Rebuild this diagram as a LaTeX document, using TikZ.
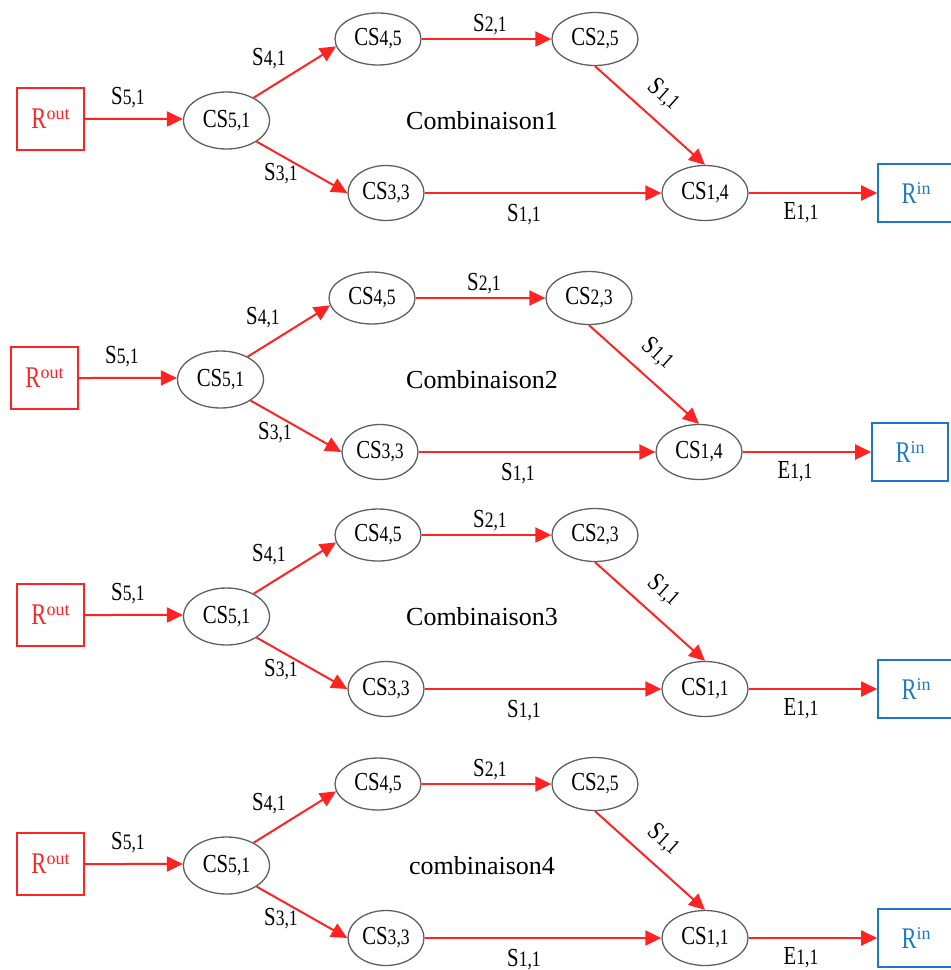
\documentclass[tikz,border=0pt]{standalone}
\usepackage{fontspec}
\setmainfont{Liberation Serif}
\newfontfamily\narrowserif[FakeStretch=0.8]{Liberation Serif}
\newfontfamily\resserif[FakeStretch=0.75]{Liberation Serif}
\usetikzlibrary{shapes.geometric,arrows.meta}

\definecolor{flowred}{RGB}{255,35,35}
\definecolor{resblue}{RGB}{30,120,200}
\definecolor{ringray}{RGB}{95,95,95}

% indexed symbol such as CS_{5,1}: small index on the same baseline
\newcommand\idx[2]{{\narrowserif\fontsize{26}{26}\selectfont #1\fontsize{22}{22}\selectfont #2}}
% resource label R^{out} / R^{in}
\newcommand\res[1]{{\resserif\fontsize{30}{30}\selectfont R\raisebox{9pt}{\rmfamily\fontsize{18}{18}\selectfont #1}}}

\tikzset{
  cs/.style={ellipse, draw=ringray, line width=1.3pt, minimum width=86pt,
             minimum height=55pt, inner sep=0pt},
  routbox/.style={rectangle, draw=flowred, line width=1.6pt, minimum width=67pt,
             minimum height=62pt, text=flowred, inner sep=0pt},
  rinbox/.style={rectangle, draw=resblue, line width=1.6pt, minimum width=76pt,
             minimum height=58pt, text=resblue, inner sep=0pt},
  flow/.style={draw=flowred, line width=2pt, -{Triangle[length=16pt,width=15pt]}},
  lab/.style={inner sep=0pt, anchor=base},
  diaglab/.style={inner sep=0pt, rotate=-42},
  combtitle/.style={inner sep=0pt, anchor=base, font=\fontsize{26}{26}\selectfont},
}

% one combination: #1,#2 shift, #3 name prefix, #4 upper right CS index,
% #5 lower right CS index, #6 title
\newcommand\combpanel[6]{%
\begin{scope}[shift={(#1,#2)}]
  \node[routbox] (#3rout) at (50.5,-1.5) {\res{out}};
  \node[cs, minimum height=57pt] (#3a) at (226.5,0) {\idx{CS}{5,1}};
  \node[cs, minimum height=52pt] (#3b) at (378,-81.5) {\idx{CS}{4,5}};
  \node[cs, minimum width=76pt] (#3c) at (386,72.5) {\idx{CS}{3,3}};
  \node[cs, minimum height=53pt] (#3d) at (595,-81.5) {\idx{CS}{#4}};
  \node[cs] (#3e) at (705,72.5) {\idx{CS}{#5}};
  \node[rinbox] (#3rin) at (916,72.5) {\res{in}};
  \draw[flow] (#3rout) -- (#3a.178);
  \draw[flow] (#3a.40) -- (#3b.190);
  \draw[flow] (#3a.-35) -- (#3c.west);
  \draw[flow] (#3b) -- (#3d);
  \draw[flow] (#3d.south) -- (#3e.north);
  \draw[flow] (#3c) -- (#3e);
  \draw[flow] (#3e) -- (#3rin);
  \node[lab] (#3l1) at (128,-16) {\idx{S}{5,1}};
  \node[lab] (#3l2) at (269,-55.5) {\idx{S}{4,1}};
  \node[lab] (#3l3) at (281,60) {\idx{S}{3,1}};
  \node[lab] (#3l4) at (490,-89.5) {\idx{S}{2,1}};
  \node[diaglab] (#3l5) at (664,-26) {\idx{S}{1,1}};
  \node[lab] (#3l6) at (524,100.5) {\idx{S}{1,1}};
  \node[lab] (#3l7) at (801,98.5) {\idx{E}{1,1}};
  \node[combtitle] (#3t) at ({482-(#1)},9) {#6};
\end{scope}}

\begin{document}
\begin{tikzpicture}[x=1pt,y=-1pt]
  \useasboundingbox (0,0) rectangle (951,970);
  \clip (0,0) rectangle (951,970);
  \combpanel{0}{120.5}{p1}{2,5}{1,4}{Combinaison1}
  \combpanel{-6}{379.5}{p2}{2,3}{1,4}{Combinaison2}
  \combpanel{0}{616.5}{p3}{2,3}{1,1}{Combinaison3}
  \combpanel{0}{865.5}{p4}{2,5}{1,1}{combinaison4}
\end{tikzpicture}
\end{document}
